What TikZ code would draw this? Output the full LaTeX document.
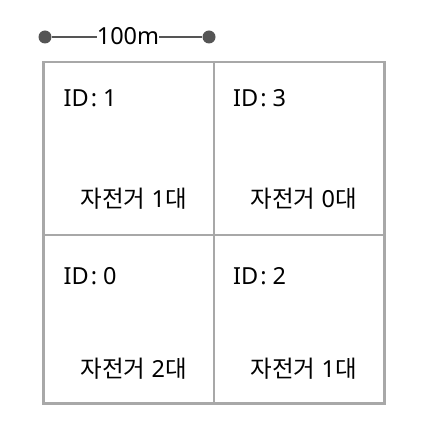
\documentclass[tikz,border=0pt]{standalone}
\usepackage{fontspec}
\setmainfont{Noto Sans}
\newfontfamily\kr{Noto Sans CJK KR}
\definecolor{gridgray}{HTML}{A8A8A8}
\definecolor{bardark}{HTML}{555555}
\tikzset{
  gridline/.style={draw=gridgray, line width=2.6pt},
  bardot/.style={circle, fill=bardark, inner sep=0pt, minimum size=13pt},
  barline/.style={draw=bardark, line width=1.8pt},
  lbl/.style={inner sep=0pt, anchor=base west, text=black, font=\fontsize{23.5}{28}\selectfont},
}
\begin{document}
\begin{tikzpicture}[x=1pt,y=-1pt]
\useasboundingbox (0,0) rectangle (429,446);
% scale bar
\node[bardot] (d1) at (45,37) {};
\node[bardot] (d2) at (209,37) {};
\node[inner sep=0pt, anchor=base, font=\fontsize{23.5}{28}\selectfont] (sc) at (128,45) {100m};
\draw[barline] (d1) -- (d1 -| sc.west);
\draw[barline] (d2 -| sc.east) -- (d2);
% grid
\coordinate (tl) at (43.5,62);
\coordinate (br) at (384.5,403.5);
\coordinate (mx) at (214,62);
\coordinate (mxb) at (214,403.5);
\coordinate (my) at (43.5,235);
\coordinate (myr) at (384.5,235);
\draw[gridline] (tl) rectangle (br);
\draw[gridline] (mx) -- (mxb);
\draw[gridline] (my) -- (myr);
% labels
\node[lbl] (id1) at (63.5,107) {ID\kern2pt: 1};
\node[lbl] (id3) at (233,107) {ID\kern2pt: 3};
\node[lbl] (id0) at (63.5,284) {ID\kern2pt: 0};
\node[lbl] (id2) at (233,284) {ID\kern2pt: 2};
\node[lbl] (b1) at (80.5,207) {{\kr 자전거} 1{\kr 대}};
\node[lbl] (b3) at (250.5,207) {{\kr 자전거} 0{\kr 대}};
\node[lbl] (b0) at (80.5,377) {{\kr 자전거} 2{\kr 대}};
\node[lbl] (b2) at (250.5,377) {{\kr 자전거} 1{\kr 대}};
\end{tikzpicture}
\end{document}
